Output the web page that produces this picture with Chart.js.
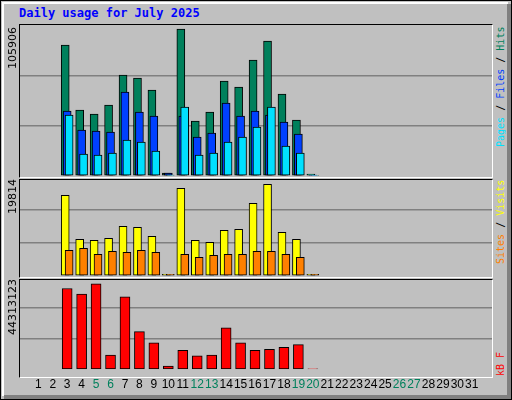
<!DOCTYPE html>
<html><head><meta charset="utf-8">
<script src="https://cdn.jsdelivr.net/npm/chart.js@4"></script>
<style>
body{margin:0;background:#fff}
#frame{position:absolute;left:0;top:0;width:510px;height:398px;background:#C0C0C0;border:1px solid #000;}
#hl{position:absolute;left:1px;top:1px;width:504px;height:392px;border-top:2px solid #fff;border-left:2px solid #fff;}
#sh{position:absolute;left:507px;top:4px;width:4px;height:395px;background:#808080}
#sh2{position:absolute;left:4px;top:395px;width:507px;height:4px;background:#808080}
.title{position:absolute;left:19px;top:6px;font:bold 12px "DejaVu Sans Mono",monospace;color:#0000FF}
.panel{position:absolute;left:19px;width:472px;border-top:1px solid #000;border-left:1px solid #000;border-right:1px solid #fff;border-bottom:1px solid #fff}
.cv{position:absolute;left:0;width:492px}
.side{position:absolute;left:495px;width:12px;writing-mode:vertical-rl;transform:rotate(180deg);font:10px "DejaVu Sans Mono",monospace;white-space:nowrap}
</style></head><body>
<div id="frame"><div id="hl"></div></div><div id="sh"></div><div id="sh2"></div>
<div class="title">Daily usage for July 2025</div>
<div class="panel" style="top:24px;height:152px"></div>
<div class="panel" style="top:179px;height:97px"></div>
<div class="panel" style="top:279px;height:97px"></div>
<div class="cv" style="top:25px;height:151px"><canvas id="c1"></canvas></div>
<div class="cv" style="top:177px;height:99px"><canvas id="c2"></canvas></div>
<div class="cv" style="top:277px;height:123px"><canvas id="c3"></canvas></div>
<div class="side" style="top:27px;height:148px;text-align:right"><span style="color:#00E0FF">Pages</span> / <span style="color:#0040FF">Files</span> / <span style="color:#00805C">Hits</span></div>
<div class="side" style="top:180px;height:96px;text-align:right"><span style="color:#FF8000">Sites</span> / <span style="color:#FFFF00">Visits</span></div>
<div class="side" style="top:280px;height:96px;text-align:left"><span style="color:#FF0000">kB F</span></div>
<script>
const days=[1,2,3,4,5,6,7,8,9,10,11,12,13,14,15,16,17,18,19,20,21,22,23,24,25,26,27,28,29,30,31];
const weekend=[5,6,12,13,19,20,26,27];
const hits=[0,0,91880,46290,43490,49800,70840,68740,60320,2100,103100,38580,44890,66630,62420,81360,94690,57510,39280,1400,0,0,0,0,0,0,0,0,0,0,0];
const files=[0,0,45590,32260,31560,30860,58920,44890,42080,2100,42080,27350,30160,51200,42080,45590,42790,37880,29460,700,0,0,0,0,0,0,0,0,0,0,0];
const pages=[0,0,42790,15430,14730,16130,25250,23850,17540,700,48400,14730,16130,23850,27350,34370,48400,21040,16130,500,0,0,0,0,0,0,0,0,0,0,0];
const visits=[0,0,16150,7340,7140,7540,9940,9740,7940,340,17550,7140,6740,9140,9340,14550,18350,8740,7340,340,0,0,0,0,0,0,0,0,0,0,0];
const sites=[0,0,5140,5540,4340,4940,4740,5140,4740,340,4340,3740,4140,4340,4340,4940,4940,4340,3740,340,0,0,0,0,0,0,0,0,0,0,0];
const kbytes=[0,0,38800000,36100000,41000000,7000000,34800000,18200000,12800000,1660000,9270000,6580000,7000000,20000000,12800000,9270000,9700000,10600000,11950000,300000,0,0,0,0,0,0,0,0,0,0,0];
const maxHits=105906, maxVisits=19814, maxKB=44313123;

const XMIN=0.128, XSPAN=31.61, PX=XSPAN/471;
function xs(id,shiftPx,show){
  return {type:'linear',min:XMIN+shiftPx*PX,max:XMIN+shiftPx*PX+XSPAN,display:show,
    grid:{display:false,drawTicks:false},border:{display:false},
    afterBuildTicks:s=>{s.ticks=days.map(d=>({value:d}));},
    ticks:{padding:8,autoSkip:false,maxRotation:0,font:{family:'Liberation Sans',size:12},
      color:c=>weekend.includes(c.tick.value)?'#00805C':'#000',callback:v=>String(v)}};
}
function ds(arr,color,axis,w,order){
  return {data:days.map((d,i)=>({x:d,y:arr[i]})),xAxisID:axis,backgroundColor:color,order:order,
    borderColor:'#000',borderWidth:1,barThickness:w,borderSkipped:false,grouped:false};
}
const maxLabel={id:'maxLabel',afterDraw(ch){
  const y=ch.scales.y, ctx=ch.ctx, v=ch.options.plugins.maxLabel.value;
  ctx.save();ctx.translate(13,y.getPixelForValue(v)+2);ctx.rotate(-Math.PI/2);
  ctx.font='11px "DejaVu Sans"';ctx.fillStyle='#000';ctx.textAlign='right';ctx.textBaseline='middle';
  ctx.fillText(String(v),0,0);ctx.restore();}};
function make(id,datasets,max,axes,showX){
  const scales={y:{min:0,max:max,display:true,border:{display:false},
      grid:{drawTicks:false,color:c=>(c.tick.value>0&&c.tick.value<max-1)?'#808080':'rgba(0,0,0,0)',lineWidth:1.5},
      ticks:{display:false,stepSize:max/3}}};
  axes.forEach(([n,s],k)=>scales[n]=xs(n,s,showX&&k===0));
  new Chart(document.getElementById(id),{type:'bar',data:{datasets},
    options:{responsive:true,maintainAspectRatio:false,animation:false,
      layout:{padding:{left:20,top:0,right:0,bottom:0}},
      plugins:{legend:{display:false},tooltip:{enabled:false},maxLabel:{value:max}},scales}, plugins:[maxLabel]});
}
make('c1',[ds(hits,'#00805C','xh',8,3),ds(files,'#0040FF','xf',8,2),ds(pages,'#00E0FF','xp',8,1)],maxHits,
  [['xh',4],['xf',2],['xp',0]],false);
make('c2',[ds(visits,'#FFFF00','xv',8,2),ds(sites,'#FF8000','xs',8,1)],maxVisits,[['xv',4],['xs',0]],false);
make('c3',[ds(kbytes,'#FF0000','xk',10,1)],maxKB,[['xk',2]],true);
</script></body></html>
